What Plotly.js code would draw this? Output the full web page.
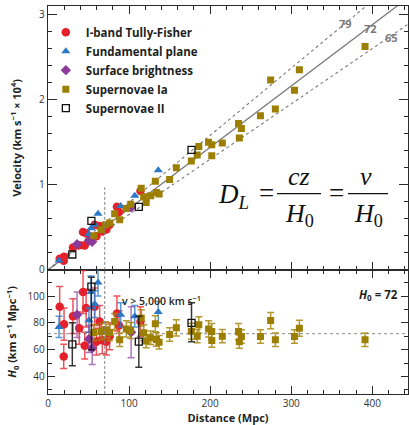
<!DOCTYPE html>
<html>
<head>
<meta charset="utf-8">
<script src="https://cdn.plot.ly/plotly-3.0.1.min.js"></script>
<style>html,body{margin:0;padding:0;background:#fff;}#chart{width:409px;height:425px;}</style>
</head>
<body>
<div id="chart"></div>
<script>
// ---------- DATA (distance in Mpc, velocity in 10^4 km/s, H0 in km/s/Mpc) ----------
const seriesNames = ["I-band Tully-Fisher", "Fundamental plane", "Surface brightness", "Supernovae Ia", "Supernovae II"];

const distTF = [14.4, 19.8, 19.4, 30.8, 38.5, 43.2, 45.3, 47, 57.5, 59.7, 63.7, 67, 72, 76, 85, 87.6, 114];
const velTF  = [0.13, 0.155, 0.106, 0.262, 0.29, 0.445, 0.285, 0.43, 0.53, 0.395, 0.515, 0.45, 0.475, 0.53, 0.74, 0.68, 0.925];
const h0TF   = [92, 79, 55, 85, 76, 103, 63, 91, 92, 66, 81, 67, 66, 70, 87, 78, 81];
const errTF  = [15, 12, 9, 13, 12, 16, 10, 14, 14, 10, 12, 10, 10, 10, 13, 11, 11];

const distFP = [13.6, 50.5, 53, 57.6, 61.7, 89.6, 107, 136];
const velFP  = [0.11, 0.42, 0.49, 0.53, 0.66, 0.75, 0.87, 1.17];
const h0FP   = [77, 82, 103, 94, 110, 86, 85, 88];
const errFP  = [8, 9, 12, 10, 10, 9, 8, 8];

const distSB = [35.8, 50.6, 54.5, 102.5];
const velSB  = [0.30, 0.345, 0.33, 0.735];
const h0SB   = [86, 68, 61, 73];
const errSB  = [17, 10, 12, 19];

const distIa = [56.7, 65.8, 71, 76, 82.2, 88.4, 96.6, 102, 115, 118, 121, 126.6, 132.4, 133.6, 137, 150, 158.3, 176.8, 184, 186, 198, 202, 202, 215, 235, 238.5, 236, 262, 274.6, 280.4, 304, 310, 391];
const velIa  = [0.40, 0.47, 0.53, 0.55, 0.66, 0.59, 0.72, 0.77, 0.96, 0.86, 0.79, 0.87, 1.04, 0.91, 0.89, 1.06, 1.20, 1.28, 1.35, 1.45, 1.50, 1.47, 1.34, 1.49, 1.72, 1.66, 1.55, 1.81, 2.23, 1.89, 2.11, 2.35, 2.625];
const h0Ia   = [72.8, 73.5, 74.8, 72.8, 81, 67.4, 75.5, 74.3, 83.7, 72.6, 66.4, 68.9, 79.3, 67.6, 65.5, 71.3, 76.3, 73.8, 70.1, 78.5, 75.5, 73.5, 66.8, 70.1, 73.5, 69.8, 66, 69.8, 81.7, 67.4, 69.8, 76, 67.4];
const errIa  = [6, 6, 6, 6, 6, 5, 6, 6, 6, 6, 5, 5, 6, 5, 5, 5, 6, 6, 5, 6, 6, 6, 5, 5, 6, 5, 5, 5, 6, 5, 5, 6, 5];

const distII = [30, 53.5, 112, 177];
const velII  = [0.18, 0.575, 0.74, 1.41];
const h0II   = [64, 107, 66, 80];
const errIIplus  = [16, 7, 19, 15];
const errIIminus = [16, 47, 19, 14];

const hubbleLines = [79, 72, 65];
const hubbleLabels = ["79", "72", "65"];
const h0Best = 72;
const distCut = 70;        // Mpc, v > 5,000 km/s
const xMax = 444;

// ---------- STYLE ----------
const FONT = "Open Sans, DejaVu Sans, sans-serif";
const SERIF = "Liberation Serif, Times New Roman, serif";
const TXT = "#231f20";
const cRed = "#e5202a", cBlue = "#2a78c6", cPurple = "#8b3a9a", cOlive = "#9c7e00";

const traces = [];

// Hubble law lines
hubbleLines.forEach(function (h) {
  traces.push({
    x: [0, xMax], y: [0, h * xMax / 1e4], xaxis: "x", yaxis: "y",
    mode: "lines", showlegend: false, hoverinfo: "skip",
    line: {color: "#7a7a7a", width: h === h0Best ? 1.3 : 1.1, dash: h === h0Best ? "solid" : "dot"}
  });
});

function addSeries(name, d, v, h, ep, em, marker, errColor) {
  traces.push({
    name: name, x: d, y: v, xaxis: "x", yaxis: "y", mode: "markers",
    marker: marker, legendgroup: name, showlegend: true
  });
  traces.push({
    name: name, x: d, y: h, xaxis: "x2", yaxis: "y2", mode: "markers",
    marker: marker, legendgroup: name, showlegend: false,
    error_y: {type: "data", symmetric: false, array: ep, arrayminus: em, color: errColor, thickness: 1.5, width: 3.5}
  });
}

addSeries(seriesNames[0], distTF, velTF, h0TF, errTF, errTF,
  {symbol: "circle", size: 8.5, color: cRed}, "rgba(232,40,50,0.8)");
addSeries(seriesNames[1], distFP, velFP, h0FP, errFP, errFP,
  {symbol: "triangle-up", size: 8, color: cBlue}, "rgba(45,125,205,0.8)");
addSeries(seriesNames[2], distSB, velSB, h0SB, errSB, errSB,
  {symbol: "diamond", size: 8, color: cPurple}, "rgba(140,60,160,0.7)");
addSeries(seriesNames[3], distIa, velIa, h0Ia, errIa, errIa,
  {symbol: "square", size: 7, color: cOlive}, "rgba(165,135,15,0.85)");
addSeries(seriesNames[4], distII, velII, h0II, errIIplus, errIIminus,
  {symbol: "square-open", size: 7, color: "#111", line: {width: 1.3, color: "#111"}}, "rgba(20,20,20,0.85)");

// ---------- AXES ----------
const axisCommon = {
  showline: true, linecolor: "#2a2a2a", linewidth: 1.3, mirror: "ticks",
  ticks: "inside", tickcolor: "#2a2a2a", tickwidth: 1,
  showgrid: false, zeroline: false,
  tickfont: {family: FONT, size: 10, color: "#333"}
};

// pixel helpers for annotation placement (plot area: x 48..408, top panel y 6..269.8)
const px2x = function (px) { return (px - 48) / 360 * xMax; };
const py2v = function (py) { return (269.8 - py) / 263.8 * 3.1; };

const FS = 26;
const annotations = [
  {x: px2x(233), y: py2v(196), xref: "x", yref: "y", text: "<i>D</i><sub><i>L</i></sub>", showarrow: false,
   font: {family: SERIF, size: FS + 1, color: "#111"}, xanchor: "center", yanchor: "middle"},
  {x: px2x(266), y: py2v(193), xref: "x", yref: "y", text: "=", showarrow: false,
   font: {family: SERIF, size: FS + 1, color: "#111"}, xanchor: "center", yanchor: "middle"},
  {x: px2x(299), y: py2v(176), xref: "x", yref: "y", text: "<i>cz</i>", showarrow: false,
   font: {family: SERIF, size: FS, color: "#111"}, xanchor: "center", yanchor: "middle"},
  {x: px2x(299), y: py2v(215), xref: "x", yref: "y", text: "<i>H</i><sub>0</sub>", showarrow: false,
   font: {family: SERIF, size: FS, color: "#111"}, xanchor: "center", yanchor: "middle"},
  {x: px2x(336), y: py2v(193), xref: "x", yref: "y", text: "=", showarrow: false,
   font: {family: SERIF, size: FS + 1, color: "#111"}, xanchor: "center", yanchor: "middle"},
  {x: px2x(366), y: py2v(176), xref: "x", yref: "y", text: "<i>v</i>", showarrow: false,
   font: {family: SERIF, size: FS, color: "#111"}, xanchor: "center", yanchor: "middle"},
  {x: px2x(368), y: py2v(215), xref: "x", yref: "y", text: "<i>H</i><sub>0</sub>", showarrow: false,
   font: {family: SERIF, size: FS, color: "#111"}, xanchor: "center", yanchor: "middle"},
  {x: px2x(345), y: py2v(23), xref: "x", yref: "y", text: hubbleLabels[0], showarrow: false,
   font: {family: FONT, size: 11, color: "#7a7a7a", weight: 700}},
  {x: px2x(370), y: py2v(28), xref: "x", yref: "y", text: hubbleLabels[1], showarrow: false,
   font: {family: FONT, size: 11, color: "#7a7a7a", weight: 700}},
  {x: px2x(391), y: py2v(37.5), xref: "x", yref: "y", text: hubbleLabels[2], showarrow: false,
   font: {family: FONT, size: 11, color: "#7a7a7a", weight: 700}},
  {x: px2x(161), y: 96.5, xref: "x2", yref: "y2", text: "v > 5,000 km s<sup>−1</sup>", showarrow: false,
   font: {family: FONT, size: 10.5, color: TXT, weight: 600}, xanchor: "center", yanchor: "middle"},
  {x: px2x(378), y: 101, xref: "x2", yref: "y2", text: "<i>H</i><sub>0</sub> = " + h0Best, showarrow: false,
   font: {family: FONT, size: 11.5, color: TXT, weight: 700}, xanchor: "center", yanchor: "middle"}
];

const shapes = [
  // fraction bars
  {type: "line", xref: "x", yref: "y", x0: px2x(277), x1: px2x(321), y0: py2v(193.5), y1: py2v(193.5), line: {color: "#111", width: 1.3}},
  {type: "line", xref: "x", yref: "y", x0: px2x(348), x1: px2x(388), y0: py2v(193.5), y1: py2v(193.5), line: {color: "#111", width: 1.3}},
  // distance cut
  {type: "line", xref: "x", yref: "y", x0: distCut, x1: distCut, y0: 0, y1: 0.97, line: {color: "#808080", width: 1, dash: "3px,2px"}},
  {type: "line", xref: "x2", yref: "y2 domain", x0: distCut, x1: distCut, y0: 0, y1: 1, line: {color: "#808080", width: 1, dash: "3px,2px"}},
  // H0 = 72 reference
  {type: "line", xref: "x2 domain", yref: "y2", x0: 0, x1: 1, y0: h0Best, y1: h0Best, line: {color: "#a0a0a0", width: 1.1, dash: "dot"}, layer: "below"}
];

const layout = {
  width: 409, height: 425,
  margin: {l: 48, r: 1, t: 6, b: 31},
  paper_bgcolor: "#fff", plot_bgcolor: "#fff",
  font: {family: FONT, color: TXT},
  showlegend: true,
  legend: {x: -0.006, y: 0.97, xanchor: "left", yanchor: "top", bgcolor: "rgba(0,0,0,0)",
           font: {family: FONT, size: 11.5, color: TXT, weight: 700}, itemsizing: "trace", tracegroupgap: 0},
  xaxis: Object.assign({}, axisCommon, {
    domain: [0, 1], range: [0, xMax], anchor: "y", showticklabels: false,
    dtick: 100, tick0: 0, ticklen: 8, minor: {dtick: 20, ticklen: 4, ticks: "inside", tickcolor: "#2a2a2a"}
  }),
  yaxis: Object.assign({}, axisCommon, {
    domain: [0.32, 1], range: [0, 3.1], anchor: "x",
    dtick: 1, tick0: 0, ticklen: 9, minor: {dtick: 0.2, ticklen: 4, ticks: "inside", tickcolor: "#2a2a2a"},
    title: {text: "Velocity (km s<sup>−1</sup> × 10<sup>4</sup>)", font: {family: FONT, size: 11, color: TXT, weight: 700}, standoff: 15}
  }),
  xaxis2: Object.assign({}, axisCommon, {
    domain: [0, 1], range: [0, xMax], anchor: "y2",
    dtick: 100, tick0: 0, ticklen: 8, minor: {dtick: 20, ticklen: 4, ticks: "inside", tickcolor: "#2a2a2a"},
    title: {text: "Distance (Mpc)", font: {family: FONT, size: 11, color: TXT, weight: 700}, standoff: 3}
  }),
  yaxis2: Object.assign({}, axisCommon, {
    domain: [0, 0.32], range: [27, 119.5], anchor: "x2",
    dtick: 20, tick0: 0, ticklen: 7, minor: {dtick: 10, ticklen: 4, ticks: "inside", tickcolor: "#2a2a2a"},
    title: {text: "<i>H</i><sub>0</sub> (km s<sup>−1</sup> Mpc<sup>−1</sup>)", font: {family: FONT, size: 11, color: TXT, weight: 700}, standoff: 8}
  }),
  annotations: annotations,
  shapes: shapes
};

Plotly.newPlot("chart", traces, layout, {displayModeBar: false, staticPlot: true});
</script>
</body>
</html>
